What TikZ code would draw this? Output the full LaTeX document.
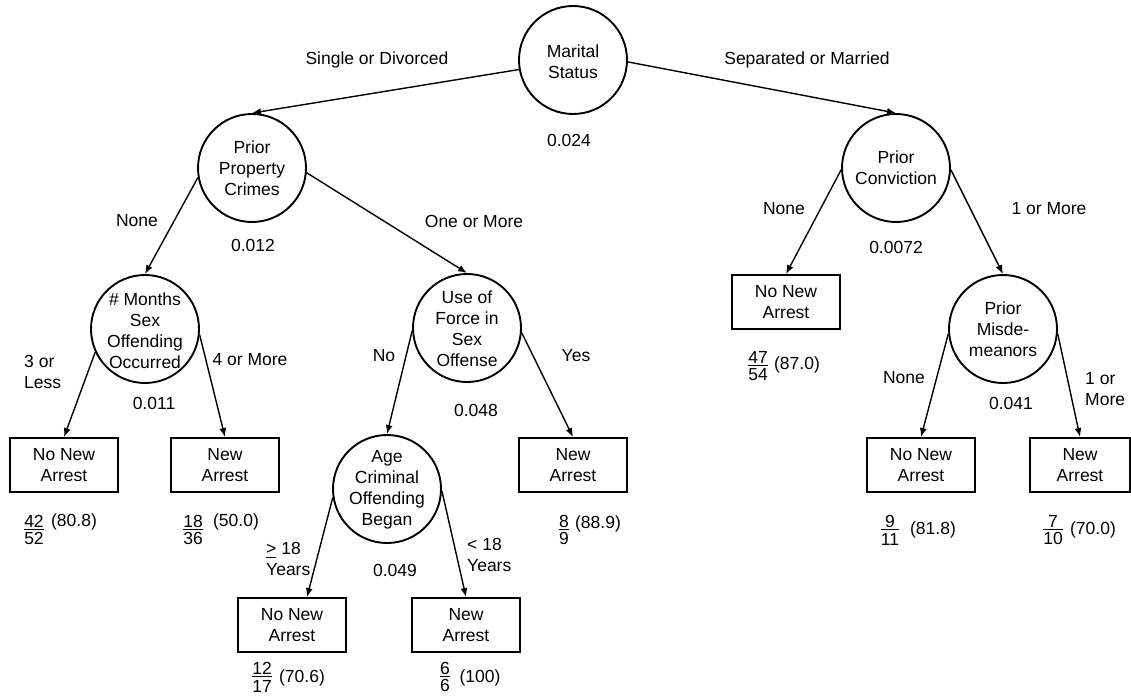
\documentclass[tikz,border=0pt]{standalone}
\usepackage{amsmath}
\usepackage{fontspec}
\setmainfont{Liberation Sans}
\usetikzlibrary{arrows.meta}
% count over total, stacked with a rule
\newcommand\fr[2]{$\genfrac{}{}{0.9pt}{1}{\hbox{#1}}{\hbox{\rule{0pt}{14pt}#2}}$}

\begin{document}
\begin{tikzpicture}[x=1pt,y=-1pt,
  every node/.style={font=\fontsize{17.5}{21}\selectfont, inner sep=0pt},
  split/.style={circle, draw, line width=1.9pt, minimum size=108pt},
  leaf/.style={rectangle, draw, line width=1.9pt, minimum width=108pt, minimum height=54pt, align=center},
  txt/.style={align=center},
  ltxt/.style={align=left, anchor=west},
  arr/.style={line width=1.4pt, -{Latex[length=9pt,width=7pt]}}]
\useasboundingbox (0,0) rectangle (1131,698);

% splitting variables
\node[split] (ms) at (573,60) {};
\node[txt] (ms-t) at (573,62) {Marital\\Status};
\node[split] (pp) at (252,168) {};
\node[txt] (pp-t) at (252,168) {Prior\\Property\\Crimes};
\node[split] (mo) at (145,329) {};
\node[txt] (mo-t) at (145,331) {\# Months\\Sex\\Offending\\Occurred};
\node[split] (uf) at (467,328) {};
\node[txt] (uf-t) at (467,329) {Use of\\Force in\\Sex\\Offense};
\node[split] (ag) at (387,489) {};
\node[txt] (ag-t) at (387,490) {Age\\Criminal\\Offending\\Began};
\node[split] (pc) at (896,168) {};
\node[txt] (pc-t) at (896,168) {Prior\\Conviction};
\node[split] (pm) at (1003,329) {};
\node[txt] (pm-t) at (1003,329) {Prior\\Misde-\\meanors};

% terminal outcomes
\node[leaf] (l1) at (64,465) {No New\\Arrest};
\node[leaf] (l2) at (225,465) {New\\Arrest};
\node[leaf] (l3) at (292,625) {No New\\Arrest};
\node[leaf] (l4) at (466,625) {New\\Arrest};
\node[leaf] (l5) at (573,465) {New\\Arrest};
\node[leaf] (l6) at (786,302) {No New\\Arrest};
\node[leaf] (l7) at (921,465) {No New\\Arrest};
\node[leaf, minimum width=100pt] (l8) at (1080,465) {New\\Arrest};

% branches
\draw[arr] (ms.190) -- (pp.north);
\draw[arr] (ms.358) -- (pc.north);
\draw[arr] (pp.190) -- (mo.north);
\draw[arr] (pp.355) -- (uf.north);
\draw[arr] (mo.205) -- (l1.north);
\draw[arr] (mo.354) -- (l2.north);
\draw[arr] (uf.183) -- (ag.north);
\draw[arr] (uf.355) -- (l5.north);
\draw[arr] (ag.189) -- ([xshift=15pt]l3.north);
\draw[arr] (ag.358) -- (l4.north);
\draw[arr] (pc.182) -- (l6.north);
\draw[arr] (pc.358) -- (pm.north);
\draw[arr] (pm.185) -- (l7.north);
\draw[arr] (pm.355) -- (l8.north);

% branch labels
\node[txt] (b1) at (377,60) {Single or Divorced};
\node[txt] (b2) at (807,60) {Separated or Married};
\node[txt] (b3) at (137,221) {None};
\node[txt] (b4) at (474,221) {One or More};
\node[ltxt] (b5) at (24,372) {3 or\\Less};
\node[txt] (b6) at (250,360) {4 or More};
\node[txt] (b7) at (384,356) {No};
\node[txt] (b8) at (576,356) {Yes};
\node[ltxt] (b9) at (266,559) {\underline{>} 18\\Years};
\node[ltxt] (b10) at (467,555) {< 18\\Years};
\node[txt] (b11) at (784,209) {None};
\node[txt] (b12) at (1049,209) {1 or More};
\node[txt] (b13) at (904,378) {None};
\node[ltxt] (b14) at (1085,389) {1 or\\More};

% p-values
\node[txt] (v1) at (569,140) {0.024};
\node[txt] (v2) at (253,245) {0.012};
\node[txt] (v3) at (154,403) {0.011};
\node[txt] (v4) at (476,410) {0.048};
\node[txt] (v5) at (395,570) {0.049};
\node[txt] (v6) at (896,247) {0.0072};
\node[txt] (v7) at (1011,403) {0.041};

% outcome counts and percentages
\node (f1) at (34,530) {\fr{42}{52}};
\node (p1) at (74,522) {(80.8)};
\node (f2) at (193,530) {\fr{18}{36}};
\node (p2) at (236,522) {(50.0)};
\node (f3) at (262,677) {\fr{12}{17}};
\node (p3) at (302,678) {(70.6)};
\node (f4) at (445,677) {\fr{6}{6}};
\node (p4) at (480,678) {(100)};
\node (f5) at (564,530) {\fr{8}{9}};
\node (p5) at (598,524) {(88.9)};
\node (f6) at (758,366) {\fr{47}{54}};
\node (p6) at (797,365) {(87.0)};
\node (f7) at (890,530) {\fr{9}{11}};
\node (p7) at (933,530) {(81.8)};
\node (f8) at (1053,530) {\fr{7}{10}};
\node (p8) at (1093,530) {(70.0)};
\end{tikzpicture}
\end{document}
